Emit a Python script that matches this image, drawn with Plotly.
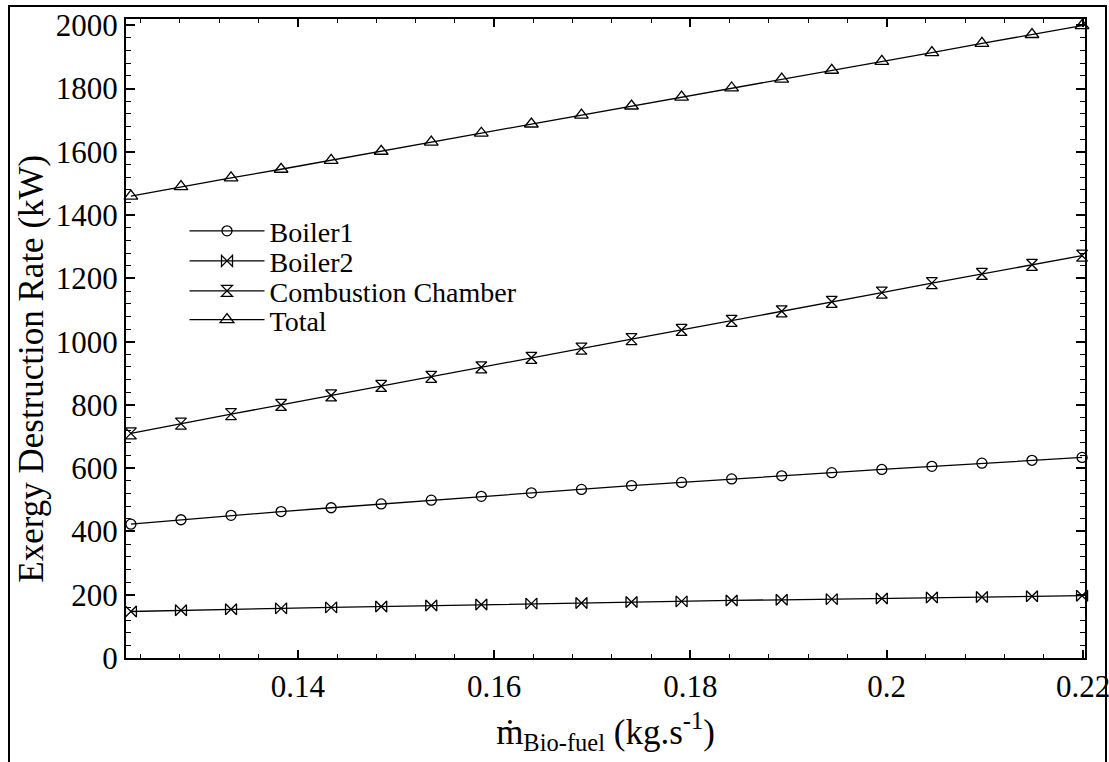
import plotly.graph_objects as go

# ---- data ----
m_bio = [0.1230 + i * 0.0051 for i in range(20)]
m_bio[-1] = 0.2199

boiler1 = [423, 437, 451, 463, 475, 487, 499, 511, 522, 533,
           545, 555, 566, 576, 586, 596, 606, 616, 625, 634]
boiler2 = [147, 151, 154, 157, 160, 163, 166, 169, 172, 174,
           177, 179, 182, 184, 186, 188, 191, 193, 195, 197]
combustion = [710, 741, 771, 800, 830, 860, 889, 919, 949, 978,
              1008, 1037, 1066, 1096, 1126, 1155, 1185, 1214, 1243, 1272]
total = [1460, 1490, 1518, 1545, 1573, 1602, 1631, 1659, 1688, 1716,
         1745, 1773, 1802, 1830, 1858, 1886, 1914, 1943, 1971, 1999]

x_tickvals = [0.14, 0.16, 0.18, 0.2, 0.22]
x_ticktext = ["0.14", "0.16", "0.18", "0.2", "0.22"]
y_tickvals = [0, 200, 400, 600, 800, 1000, 1200, 1400, 1600, 1800, 2000]

FONT = "Liberation Serif"

series = [
    ("Boiler1", boiler1, "circle-open", 10),
    ("Boiler2", boiler2, "bowtie-open", 11),
    ("Combustion Chamber", combustion, "hourglass-open", 11),
    ("Total", total, "triangle-up-open", 12),
]
legend_ids = ["legend", "legend2", "legend3", "legend4"]
legend_rows_y = [0.668, 0.621, 0.574, 0.529]

fig = go.Figure()
for (name, vals, sym, size), lid in zip(series, legend_ids):
    fig.add_trace(go.Scatter(
        x=m_bio, y=vals, name=name, mode="lines+markers",
        line=dict(color="black", width=1.3),
        marker=dict(symbol=sym, size=size, color="black",
                    line=dict(color="black", width=1.3)),
        cliponaxis=False, legend=lid,
    ))

axis_common = dict(
    showline=True, linecolor="black", linewidth=2, mirror="ticks",
    ticks="inside", tickcolor="black", tickwidth=1.5,
    showgrid=False, zeroline=False, ticklabeloverflow="allow",
    automargin=False,
    tickfont=dict(family=FONT, size=31, color="black"),
)

fig.update_xaxes(
    range=[0.1225, 0.2202], tickmode="array",
    tickvals=x_tickvals, ticktext=x_ticktext, ticklen=8,
    minor=dict(tick0=0, dtick=0.004, ticks="inside", ticklen=4,
               tickcolor="black", tickwidth=1.2, showgrid=False),
    title=dict(text="m\u0307<sub>Bio-fuel</sub> (kg.s<sup>-1</sup>)",
               font=dict(family=FONT, size=35, color="black"), standoff=16),
    **axis_common,
)
fig.update_yaxes(
    range=[0, 2020], tickmode="array", tickvals=y_tickvals, ticklen=9,
    minor=dict(tick0=0, dtick=40, ticks="inside", ticklen=5,
               tickcolor="black", tickwidth=1.2, showgrid=False),
    **axis_common,
)

legend_common = dict(x=0.061, xanchor="left", yanchor="middle",
                     bgcolor="rgba(0,0,0,0)", borderwidth=0,
                     font=dict(family=FONT, size=28, color="black"),
                     itemwidth=75)
layout_legends = {lid: dict(y=yy, **legend_common)
                  for lid, yy in zip(legend_ids, legend_rows_y)}

fig.update_layout(
    width=1109, height=762,
    margin=dict(l=126, r=24, t=19, b=104),
    paper_bgcolor="white", plot_bgcolor="white",
    showlegend=True,
    **layout_legends,
    annotations=[dict(text="Exergy Destruction Rate (kW)", textangle=-90,
                      xref="paper", yref="paper", x=-0.0985, y=0.452,
                      xanchor="center", yanchor="middle", showarrow=False,
                      font=dict(family=FONT, size=35, color="black"))],
    shapes=[dict(type="rect", xref="paper", yref="paper",
                 x0=-0.122, x1=1.0219, y0=-0.17, y1=1.0203,
                 line=dict(color="black", width=2), layer="below")],
)

fig.write_html("out.html", config={"displayModeBar": False},
               post_script="document.body.style.margin='0px';"
                           "document.body.style.overflow='hidden';")
